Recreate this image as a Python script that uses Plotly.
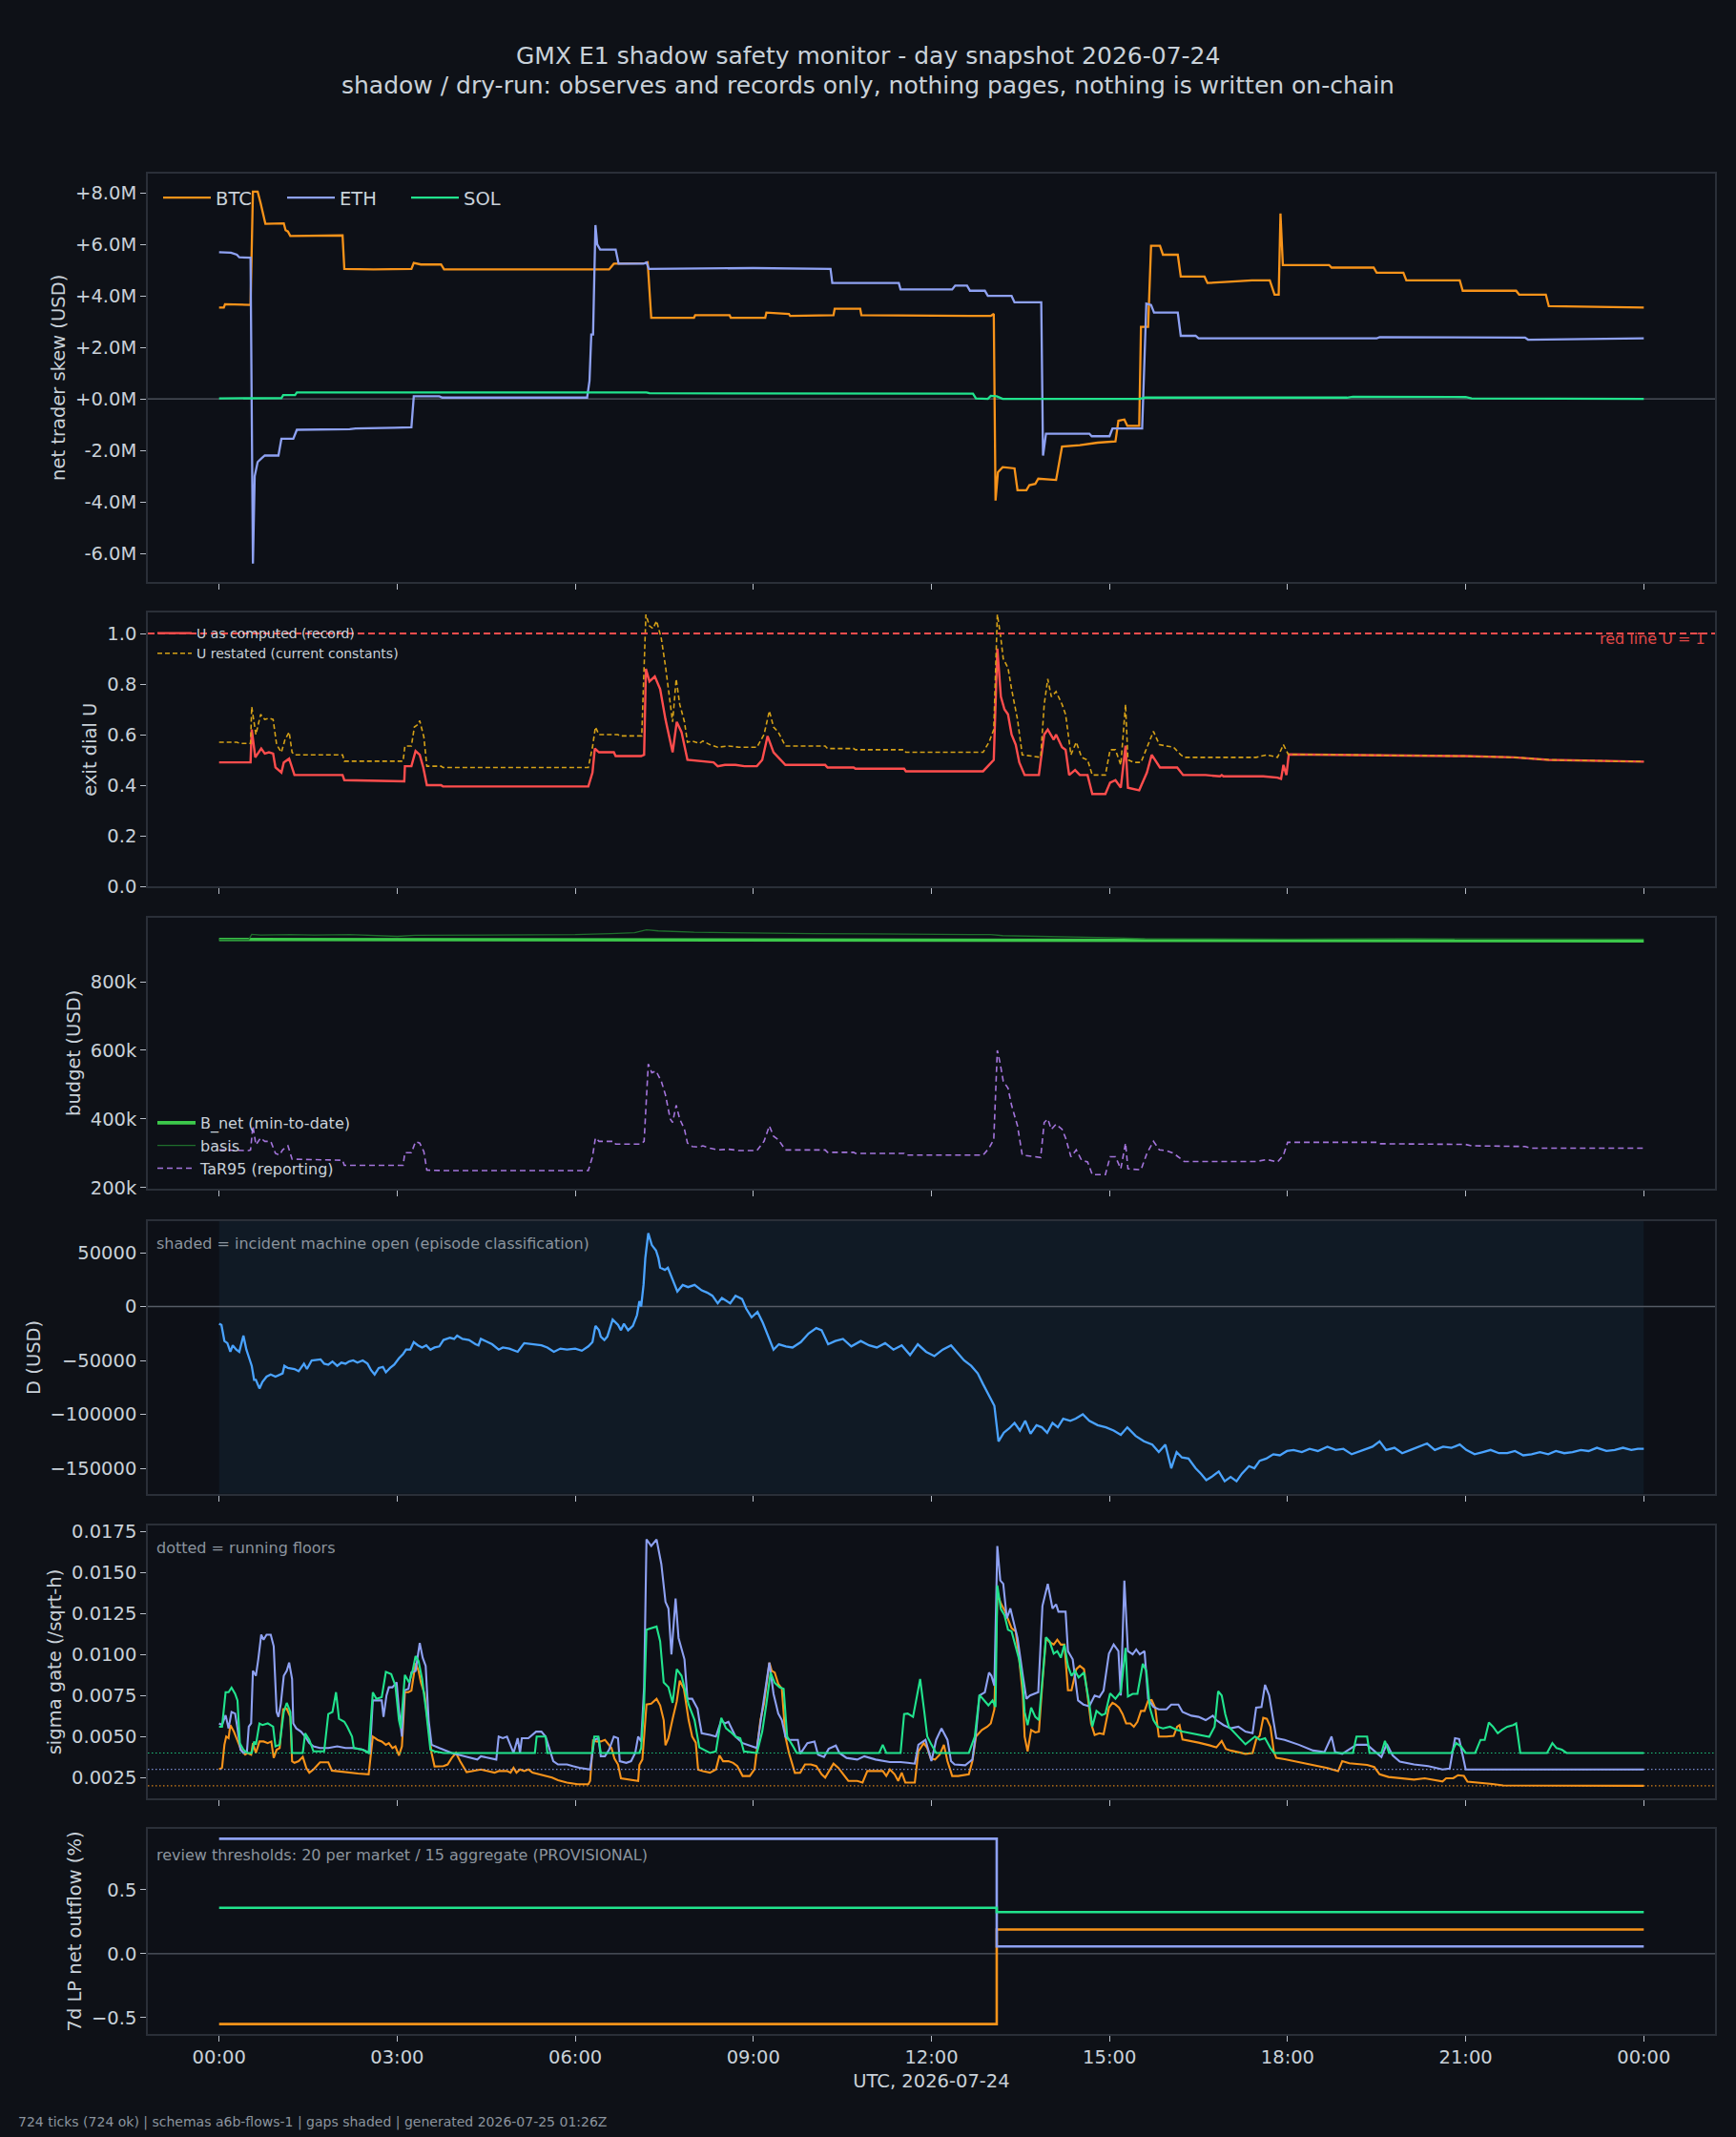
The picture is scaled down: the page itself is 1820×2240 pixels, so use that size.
import plotly.graph_objects as go

# ---------------- data (hours since 00:00 UTC, value) ----------------
HOUR_TICKS = [0, 3, 6, 9, 12, 15, 18, 21, 24]
HOUR_LABELS = ["00:00", "03:00", "06:00", "09:00", "12:00", "15:00", "18:00", "21:00", "00:00"]

# net trader skew, USD millions
SKEW_BTC = [(0, 3.55), (0.08, 3.55), (0.1, 3.68), (0.53, 3.65), (0.57, 8.05), (0.65, 8.05), (0.7, 7.6), (0.73, 7.3),
            (0.78, 6.8), (1.09, 6.82), (1.12, 6.55), (1.16, 6.5), (1.2, 6.33), (2.08, 6.35), (2.11, 5.05), (2.6, 5.03),
            (3.24, 5.05), (3.28, 5.28), (3.35, 5.25), (3.4, 5.22), (3.74, 5.22), (3.79, 5.03), (6.57, 5.03), (6.65, 5.25),
            (7.18, 5.27), (7.22, 5.3), (7.28, 3.15), (8.0, 3.15), (8.02, 3.25), (8.6, 3.25), (8.62, 3.15), (9.2, 3.15),
            (9.22, 3.35), (9.6, 3.3), (9.62, 3.22), (10.35, 3.25), (10.37, 3.5), (10.8, 3.5), (10.82, 3.25), (13.0, 3.22),
            (13.05, 3.3), (13.08, -3.95), (13.12, -2.85), (13.2, -2.65), (13.4, -2.7), (13.45, -3.55), (13.6, -3.55),
            (13.65, -3.35), (13.75, -3.3), (13.8, -3.1), (14.1, -3.15), (14.2, -1.85), (14.5, -1.8), (14.8, -1.7),
            (15.1, -1.65), (15.15, -0.85), (15.25, -0.8), (15.3, -1.05), (15.5, -1.05), (15.53, 2.8), (15.65, 2.8),
            (15.7, 5.95), (15.85, 5.95), (15.9, 5.6), (16.15, 5.6), (16.2, 4.75), (16.6, 4.75), (16.65, 4.5), (17.0, 4.55),
            (17.4, 4.6), (17.7, 4.6), (17.78, 4.05), (17.85, 4.05), (17.88, 7.2), (17.92, 5.2), (18.7, 5.2), (18.74, 5.1),
            (19.45, 5.1), (19.5, 4.9), (19.95, 4.9), (20.0, 4.6), (20.9, 4.6), (20.95, 4.2), (21.85, 4.2), (21.9, 4.05),
            (22.35, 4.05), (22.4, 3.6), (24, 3.55)]
SKEW_ETH = [(0, 5.7), (0.2, 5.68), (0.3, 5.6), (0.34, 5.5), (0.53, 5.48), (0.56, -3.0), (0.57, -6.4), (0.6, -3.0),
            (0.65, -2.45), (0.72, -2.3), (0.77, -2.2), (1.0, -2.2), (1.05, -1.55), (1.25, -1.55), (1.31, -1.2),
            (2.2, -1.18), (2.3, -1.15), (2.95, -1.12), (3.24, -1.1), (3.28, 0.1), (3.71, 0.1), (3.76, 0.05), (6.2, 0.05),
            (6.24, 0.7), (6.27, 2.5), (6.3, 2.5), (6.34, 6.75), (6.37, 6.0), (6.42, 5.8), (6.68, 5.8), (6.73, 5.25),
            (7.15, 5.25), (7.2, 5.3), (7.24, 5.05), (9.0, 5.08), (10.3, 5.05), (10.33, 4.5), (11.45, 4.5), (11.48, 4.25),
            (12.35, 4.25), (12.4, 4.4), (12.6, 4.4), (12.65, 4.2), (12.9, 4.2), (12.95, 4.0), (13.35, 4.0), (13.4, 3.75),
            (13.85, 3.75), (13.88, -2.2), (13.93, -1.35), (14.66, -1.35), (14.7, -1.45), (15.0, -1.45), (15.05, -1.15),
            (15.55, -1.15), (15.62, 3.7), (15.7, 3.65), (15.75, 3.35), (16.15, 3.35), (16.2, 2.45), (16.45, 2.45),
            (16.5, 2.35), (19.5, 2.35), (19.55, 2.4), (21.0, 2.4), (22.0, 2.38), (22.05, 2.3), (24, 2.35)]
SKEW_SOL = [(0, 0.02), (1.05, 0.03), (1.08, 0.15), (1.28, 0.15), (1.31, 0.25), (7.2, 0.25), (7.25, 0.22), (12.7, 0.2),
            (12.75, 0.02), (12.95, 0.0), (13.0, 0.12), (13.1, 0.1), (13.2, 0.0), (15.5, 0.0), (15.6, 0.05), (19.0, 0.05),
            (19.1, 0.08), (21.0, 0.07), (21.1, 0.02), (24, 0.0)]

# exit dial U
U_RECORD = [(0, 0.49), (0.5, 0.488), (0.53, 0.49), (0.55, 0.62), (0.61, 0.51), (0.71, 0.545), (0.77, 0.525), (0.84, 0.53),
            (0.91, 0.525), (0.95, 0.47), (1.05, 0.45), (1.09, 0.49), (1.18, 0.505), (1.27, 0.44), (2.08, 0.44),
            (2.11, 0.42), (3.12, 0.415), (3.13, 0.475), (3.24, 0.475), (3.31, 0.535), (3.38, 0.52), (3.44, 0.47),
            (3.5, 0.4), (3.74, 0.4), (3.77, 0.395), (6.22, 0.395), (6.29, 0.45), (6.33, 0.545), (6.4, 0.53), (6.65, 0.53),
            (6.68, 0.515), (7.11, 0.515), (7.16, 0.52), (7.19, 0.86), (7.25, 0.81), (7.34, 0.83), (7.43, 0.78),
            (7.52, 0.66), (7.62, 0.56), (7.64, 0.53), (7.71, 0.65), (7.79, 0.61), (7.89, 0.5), (8.1, 0.495), (8.33, 0.49),
            (8.4, 0.475), (8.52, 0.48), (8.7, 0.48), (8.85, 0.475), (9.06, 0.475), (9.15, 0.5), (9.24, 0.594),
            (9.34, 0.53), (9.42, 0.51), (9.54, 0.48), (10.21, 0.48), (10.25, 0.47), (10.69, 0.47), (10.72, 0.465),
            (11.54, 0.465), (11.57, 0.455), (12.87, 0.455), (12.97, 0.48), (13.05, 0.5), (13.11, 0.94), (13.17, 0.75),
            (13.23, 0.7), (13.29, 0.68), (13.35, 0.6), (13.42, 0.56), (13.48, 0.49), (13.57, 0.44), (13.81, 0.44),
            (13.9, 0.6), (13.96, 0.62), (14.06, 0.58), (14.1, 0.6), (14.2, 0.55), (14.26, 0.54), (14.32, 0.44),
            (14.42, 0.46), (14.5, 0.44), (14.63, 0.44), (14.71, 0.365), (14.93, 0.365), (15.01, 0.41), (15.1, 0.42),
            (15.19, 0.39), (15.27, 0.556), (15.31, 0.39), (15.5, 0.38), (15.63, 0.45), (15.71, 0.52), (15.8, 0.49),
            (15.85, 0.47), (16.14, 0.47), (16.24, 0.44), (16.62, 0.44), (16.86, 0.435), (16.89, 0.44), (16.92, 0.435),
            (17.59, 0.435), (17.83, 0.43), (17.89, 0.425), (17.93, 0.48), (17.98, 0.44), (18.02, 0.522), (18.8, 0.52),
            (20.0, 0.518), (20.97, 0.515), (21.82, 0.51), (22.4, 0.5), (24, 0.493)]
U_RESTATED = [(0, 0.57), (0.3, 0.57), (0.35, 0.565), (0.53, 0.565), (0.55, 0.71), (0.62, 0.6), (0.7, 0.68), (0.77, 0.66),
              (0.84, 0.665), (0.91, 0.66), (0.97, 0.56), (1.05, 0.53), (1.11, 0.58), (1.18, 0.61), (1.23, 0.53),
              (1.27, 0.52), (2.08, 0.52), (2.11, 0.495), (3.1, 0.495), (3.13, 0.555), (3.24, 0.555), (3.29, 0.63),
              (3.35, 0.64), (3.38, 0.655), (3.45, 0.59), (3.5, 0.475), (3.74, 0.475), (3.77, 0.47), (6.22, 0.47),
              (6.29, 0.55), (6.34, 0.63), (6.4, 0.6), (6.72, 0.6), (6.75, 0.595), (7.12, 0.595), (7.19, 1.075),
              (7.25, 1.03), (7.31, 1.02), (7.37, 1.05), (7.45, 0.98), (7.52, 0.87), (7.6, 0.72), (7.64, 0.65),
              (7.7, 0.82), (7.76, 0.72), (7.84, 0.65), (7.89, 0.57), (7.97, 0.575), (8.09, 0.565), (8.15, 0.575),
              (8.27, 0.56), (8.4, 0.55), (8.58, 0.555), (8.76, 0.55), (9.06, 0.55), (9.18, 0.6), (9.27, 0.694),
              (9.34, 0.63), (9.42, 0.61), (9.54, 0.555), (10.21, 0.555), (10.25, 0.545), (10.69, 0.545), (10.72, 0.54),
              (11.54, 0.54), (11.57, 0.53), (12.87, 0.53), (12.97, 0.57), (13.05, 0.62), (13.11, 1.075), (13.16, 1.0),
              (13.21, 0.9), (13.29, 0.864), (13.35, 0.78), (13.45, 0.66), (13.53, 0.52), (13.84, 0.51), (13.9, 0.72),
              (13.96, 0.82), (14.02, 0.75), (14.1, 0.77), (14.2, 0.72), (14.26, 0.68), (14.35, 0.52), (14.44, 0.57),
              (14.53, 0.51), (14.63, 0.5), (14.71, 0.44), (14.93, 0.44), (15.01, 0.54), (15.1, 0.54), (15.19, 0.48),
              (15.27, 0.72), (15.31, 0.5), (15.41, 0.49), (15.53, 0.49), (15.63, 0.55), (15.74, 0.613), (15.84, 0.56),
              (15.96, 0.555), (16.08, 0.55), (16.2, 0.52), (16.26, 0.51), (17.47, 0.51), (17.65, 0.52), (17.83, 0.51),
              (17.93, 0.56), (18.01, 0.522), (18.8, 0.52), (20.0, 0.518), (20.97, 0.515), (21.82, 0.51), (22.4, 0.5),
              (24, 0.493)]
U_RED_LINE = 1.0

# budget, USD thousands
B_NET = [(0, 923), (7.2, 922.5), (13.1, 921), (16, 920), (24, 919)]
BASIS = [(0, 923), (0.5, 923), (0.55, 938), (0.7, 936), (1.2, 937), (1.6, 936), (2.2, 937), (2.6, 934), (3.0, 932),
         (3.3, 935), (4.0, 936), (5.0, 936), (6.0, 937), (6.6, 940), (7.0, 943), (7.2, 951), (7.4, 948), (8.0, 944),
         (9.0, 941), (10.0, 940), (11.0, 939), (12.0, 939), (13.0, 937), (13.2, 934), (14.0, 932), (14.5, 930),
         (15.0, 928), (15.6, 925), (16.5, 924), (18, 924), (20, 925), (22, 924), (24, 924)]
TAR95 = [(0, 310), (0.5, 308), (0.53, 310), (0.57, 380), (0.62, 325), (0.7, 345), (0.77, 335), (0.87, 335), (0.95, 300),
         (1.02, 295), (1.07, 310), (1.16, 322), (1.23, 283), (2.08, 280), (2.11, 265), (3.1, 265), (3.13, 302),
         (3.24, 302), (3.31, 334), (3.38, 330), (3.45, 305), (3.5, 251), (3.74, 250), (6.22, 250), (6.29, 290),
         (6.34, 345), (6.4, 335), (6.65, 335), (6.68, 327), (7.11, 327), (7.16, 335), (7.23, 560), (7.29, 535),
         (7.36, 540), (7.45, 510), (7.52, 470), (7.6, 400), (7.64, 390), (7.7, 440), (7.76, 400), (7.84, 370),
         (7.89, 330), (7.97, 320), (8.09, 318), (8.15, 322), (8.27, 315), (8.4, 310), (8.58, 312), (8.76, 308),
         (9.06, 308), (9.18, 335), (9.27, 380), (9.34, 350), (9.42, 340), (9.54, 310), (10.21, 310), (10.25, 303),
         (10.69, 303), (10.72, 300), (11.54, 300), (11.57, 295), (12.87, 295), (12.97, 315), (13.05, 340), (13.11, 600),
         (13.16, 560), (13.21, 510), (13.29, 490), (13.35, 440), (13.45, 380), (13.53, 295), (13.84, 288), (13.9, 390),
         (13.96, 400), (14.02, 370), (14.1, 385), (14.2, 370), (14.26, 345), (14.35, 290), (14.44, 310), (14.53, 280),
         (14.63, 275), (14.71, 238), (14.93, 238), (15.01, 290), (15.1, 290), (15.19, 255), (15.27, 330), (15.31, 255),
         (15.53, 252), (15.63, 300), (15.74, 335), (15.84, 310), (15.96, 308), (16.08, 300), (16.2, 285), (16.26, 276),
         (17.47, 276), (17.65, 282), (17.83, 275), (17.93, 295), (18.0, 332), (19.5, 332), (19.55, 328), (21.0, 326),
         (21.1, 322), (22.0, 320), (22.1, 315), (24, 315)]

# D, USD
D_USD = [(0, -16e3), (0.04, -17e3), (0.09, -32e3), (0.14, -34e3), (0.19, -42e3), (0.23, -36e3), (0.29, -40e3),
         (0.34, -42e3), (0.41, -27e3), (0.46, -40e3), (0.52, -50e3), (0.55, -55e3), (0.59, -68e3), (0.62, -68e3),
         (0.68, -76e3), (0.73, -70e3), (0.8, -65e3), (0.87, -63e3), (0.95, -65e3), (1.02, -63e3), (1.07, -62e3),
         (1.1, -55e3), (1.16, -57e3), (1.27, -58e3), (1.34, -60e3), (1.43, -53e3), (1.48, -58e3), (1.56, -50e3),
         (1.66, -49e3), (1.71, -49e3), (1.77, -53e3), (1.84, -54e3), (1.91, -51e3), (1.99, -55e3), (2.06, -52e3),
         (2.13, -53e3), (2.19, -51e3), (2.26, -50e3), (2.33, -52e3), (2.42, -50e3), (2.5, -53e3), (2.56, -59e3),
         (2.62, -63e3), (2.69, -57e3), (2.76, -56e3), (2.81, -61e3), (2.88, -57e3), (2.95, -54e3), (3.03, -48e3),
         (3.1, -44e3), (3.15, -40e3), (3.22, -40e3), (3.28, -33e3), (3.35, -36e3), (3.42, -38e3), (3.49, -36e3),
         (3.56, -40e3), (3.63, -38e3), (3.71, -37e3), (3.78, -31e3), (3.89, -29e3), (3.96, -30e3), (4.01, -27e3),
         (4.1, -30e3), (4.21, -31e3), (4.32, -35e3), (4.37, -36e3), (4.41, -30e3), (4.49, -32e3), (4.6, -35e3),
         (4.71, -40e3), (4.78, -38e3), (4.89, -39e3), (5.03, -42e3), (5.14, -34e3), (5.28, -35e3), (5.43, -36e3),
         (5.53, -38e3), (5.64, -42e3), (5.75, -39e3), (5.86, -40e3), (6.0, -39e3), (6.11, -41e3), (6.22, -37e3),
         (6.29, -33e3), (6.34, -18e3), (6.4, -22e3), (6.43, -28e3), (6.49, -31e3), (6.54, -28e3), (6.63, -12e3),
         (6.72, -17e3), (6.77, -22e3), (6.82, -16e3), (6.89, -22e3), (6.97, -18e3), (7.04, -8e3), (7.08, 5e3),
         (7.11, 0), (7.15, 20e3), (7.18, 45e3), (7.23, 68e3), (7.29, 57e3), (7.36, 52e3), (7.4, 45e3), (7.43, 36e3),
         (7.51, 34e3), (7.56, 36e3), (7.64, 25e3), (7.72, 14e3), (7.81, 20e3), (7.9, 18e3), (8.01, 20e3), (8.13, 15e3),
         (8.22, 13e3), (8.31, 10e3), (8.4, 3e3), (8.47, 8e3), (8.61, 3e3), (8.7, 10e3), (8.81, 7e3), (8.88, -2e3),
         (8.97, -10e3), (9.07, -5e3), (9.16, -15e3), (9.27, -30e3), (9.34, -40e3), (9.43, -35e3), (9.55, -37e3),
         (9.66, -38e3), (9.8, -33e3), (9.93, -25e3), (10.06, -20e3), (10.15, -22e3), (10.26, -35e3), (10.38, -32e3),
         (10.51, -30e3), (10.65, -37e3), (10.81, -32e3), (10.95, -36e3), (11.08, -38e3), (11.22, -34e3),
         (11.36, -40e3), (11.5, -36e3), (11.64, -45e3), (11.77, -35e3), (11.91, -42e3), (12.05, -46e3),
         (12.19, -40e3), (12.33, -36e3), (12.44, -43e3), (12.55, -50e3), (12.67, -55e3), (12.78, -62e3),
         (12.87, -72e3), (12.97, -82e3), (13.06, -92e3), (13.13, -125e3), (13.22, -117e3), (13.31, -113e3),
         (13.4, -108e3), (13.49, -115e3), (13.58, -106e3), (13.67, -118e3), (13.77, -110e3), (13.86, -112e3),
         (13.95, -117e3), (14.04, -108e3), (14.13, -112e3), (14.22, -104e3), (14.34, -106e3), (14.43, -104e3),
         (14.55, -100e3), (14.66, -106e3), (14.8, -110e3), (14.94, -112e3), (15.07, -115e3), (15.19, -119e3),
         (15.3, -112e3), (15.44, -120e3), (15.58, -125e3), (15.72, -128e3), (15.83, -135e3), (15.94, -128e3),
         (16.04, -150e3), (16.13, -135e3), (16.22, -140e3), (16.33, -141e3), (16.45, -150e3), (16.54, -155e3),
         (16.63, -161e3), (16.72, -158e3), (16.84, -153e3), (16.94, -162e3), (17.04, -158e3), (17.14, -162e3),
         (17.23, -155e3), (17.35, -148e3), (17.44, -150e3), (17.53, -143e3), (17.64, -141e3), (17.76, -137e3),
         (17.87, -138e3), (17.99, -134e3), (18.1, -133e3), (18.24, -135e3), (18.37, -132e3), (18.51, -134e3),
         (18.67, -130e3), (18.81, -133e3), (18.94, -132e3), (19.08, -137e3), (19.24, -134e3), (19.43, -130e3),
         (19.55, -125e3), (19.66, -133e3), (19.8, -131e3), (19.93, -136e3), (20.07, -133e3), (20.21, -130e3),
         (20.35, -127e3), (20.48, -133e3), (20.62, -130e3), (20.76, -131e3), (20.9, -128e3), (21.01, -133e3),
         (21.15, -137e3), (21.29, -135e3), (21.42, -133e3), (21.56, -136e3), (21.7, -136e3), (21.83, -134e3),
         (21.97, -138e3), (22.11, -137e3), (22.25, -135e3), (22.39, -137e3), (22.52, -134e3), (22.66, -136e3),
         (22.8, -135e3), (22.94, -133e3), (23.07, -134e3), (23.21, -131e3), (23.37, -134e3), (23.51, -133e3),
         (23.65, -131e3), (23.79, -133e3), (23.9, -132e3), (24, -132e3)]
INCIDENT_OPEN = (0, 24)

# sigma gate (/sqrt-h)
SIG_ETH = [(0, 5.8e-3), (0.05, 5.7e-3), (0.11, 6.3e-3), (0.16, 5.5e-3), (0.21, 6.5e-3), (0.27, 6.4e-3), (0.31, 5.5e-3),
           (0.36, 4.2e-3), (0.41, 4.0e-3), (0.47, 4.1e-3), (0.5, 5.6e-3), (0.54, 5.8e-3), (0.57, 9.0e-3), (0.62, 8.7e-3),
           (0.66, 9.7e-3), (0.71, 11.2e-3), (0.75, 10.9e-3), (0.8, 11.2e-3), (0.87, 11.2e-3), (0.92, 10.5e-3),
           (0.97, 6.5e-3), (1.0, 6.2e-3), (1.04, 7.0e-3), (1.09, 8.7e-3), (1.14, 9.0e-3), (1.18, 9.5e-3), (1.23, 8.5e-3),
           (1.25, 5.8e-3), (1.3, 5.5e-3), (1.38, 5.3e-3), (1.45, 5.0e-3), (1.52, 4.6e-3), (1.59, 4.4e-3), (1.7, 4.3e-3),
           (1.84, 4.3e-3), (1.99, 4.4e-3), (2.13, 4.3e-3), (2.27, 4.3e-3), (2.42, 4.2e-3), (2.49, 4.1e-3),
           (2.54, 4.0e-3), (2.59, 7.2e-3), (2.65, 7.2e-3), (2.74, 7.2e-3), (2.77, 6.2e-3), (2.82, 7.5e-3),
           (2.86, 8.0e-3), (2.92, 8.0e-3), (2.99, 8.3e-3), (3.03, 6.6e-3), (3.08, 5.0e-3), (3.12, 7.8e-3),
           (3.19, 7.9e-3), (3.24, 8.9e-3), (3.31, 9.0e-3), (3.38, 10.7e-3), (3.43, 9.8e-3), (3.48, 9.3e-3),
           (3.53, 6.0e-3), (3.58, 4.5e-3), (3.71, 4.3e-3), (3.92, 4.0e-3), (4.14, 3.8e-3), (4.35, 3.6e-3),
           (4.41, 3.8e-3), (4.57, 3.7e-3), (4.67, 3.6e-3), (4.71, 5.0e-3), (4.78, 4.9e-3), (4.85, 5.0e-3),
           (4.91, 4.5e-3), (4.96, 4.0e-3), (5.0, 4.5e-3), (5.03, 4.9e-3), (5.07, 4.0e-3), (5.1, 4.9e-3),
           (5.21, 4.9e-3), (5.28, 5.1e-3), (5.34, 5.3e-3), (5.43, 5.3e-3), (5.5, 5.0e-3), (5.57, 4.2e-3),
           (5.63, 3.5e-3), (5.71, 3.3e-3), (5.86, 3.3e-3), (5.96, 3.2e-3), (6.07, 3.1e-3), (6.25, 3.0e-3),
           (6.32, 4.8e-3), (6.39, 4.9e-3), (6.43, 3.8e-3), (6.5, 3.8e-3), (6.57, 4.2e-3), (6.65, 5.0e-3),
           (6.72, 4.9e-3), (6.75, 3.5e-3), (6.86, 3.4e-3), (6.94, 3.5e-3), (7.01, 4.0e-3), (7.06, 5.0e-3),
           (7.11, 4.7e-3), (7.16, 8.0e-3), (7.2, 17.0e-3), (7.28, 16.6e-3), (7.37, 17.0e-3), (7.45, 15.5e-3),
           (7.52, 13.2e-3), (7.57, 12.8e-3), (7.62, 10.0e-3), (7.69, 13.4e-3), (7.74, 11.0e-3), (7.84, 9.7e-3),
           (7.89, 7.3e-3), (7.97, 7.3e-3), (8.06, 6.7e-3), (8.09, 6.0e-3), (8.13, 5.2e-3), (8.27, 5.1e-3),
           (8.37, 5.0e-3), (8.46, 6.0e-3), (8.52, 5.8e-3), (8.58, 5.9e-3), (8.7, 5.0e-3), (8.82, 4.6e-3),
           (9.0, 4.4e-3), (9.06, 4.3e-3), (9.15, 6.6e-3), (9.27, 9.5e-3), (9.34, 7.6e-3), (9.42, 6.4e-3),
           (9.48, 6.0e-3), (9.54, 5.0e-3), (9.6, 4.8e-3), (9.75, 4.8e-3), (9.79, 3.95e-3), (9.91, 4.6e-3),
           (10.03, 4.7e-3), (10.09, 3.9e-3), (10.19, 3.75e-3), (10.27, 4.25e-3), (10.39, 4.45e-3), (10.45, 4.0e-3),
           (10.57, 3.7e-3), (10.75, 3.6e-3), (10.87, 3.8e-3), (11.06, 3.6e-3), (11.3, 3.45e-3), (11.48, 3.45e-3),
           (11.6, 3.4e-3), (11.72, 3.35e-3), (11.78, 4.5e-3), (11.9, 4.8e-3), (12.0, 3.5e-3), (12.08, 4.8e-3),
           (12.17, 5.5e-3), (12.27, 4.8e-3), (12.33, 3.5e-3), (12.39, 3.3e-3), (12.57, 3.25e-3), (12.69, 3.6e-3),
           (12.75, 5.2e-3), (12.81, 7.5e-3), (12.9, 7.7e-3), (12.97, 8.9e-3), (13.01, 8.7e-3), (13.06, 8.1e-3),
           (13.11, 16.6e-3), (13.16, 14.5e-3), (13.21, 14.3e-3), (13.27, 12.2e-3), (13.33, 12.8e-3),
           (13.39, 11.8e-3), (13.45, 11.0e-3), (13.54, 8.7e-3), (13.6, 7.3e-3), (13.66, 7.5e-3), (13.72, 7.6e-3),
           (13.8, 7.7e-3), (13.87, 12.95e-3), (13.96, 14.3e-3), (14.04, 12.8e-3), (14.1, 13.05e-3), (14.14, 12.6e-3),
           (14.26, 12.6e-3), (14.3, 10.2e-3), (14.38, 9.7e-3), (14.47, 7.2e-3), (14.56, 6.95e-3), (14.66, 6.85e-3),
           (14.75, 7.5e-3), (14.83, 7.4e-3), (14.9, 7.8e-3), (14.99, 10.05e-3), (15.07, 10.6e-3), (15.15, 10.2e-3),
           (15.19, 7.5e-3), (15.25, 14.5e-3), (15.31, 10.2e-3), (15.39, 10.0e-3), (15.45, 10.3e-3), (15.51, 10.0e-3),
           (15.59, 10.2e-3), (15.65, 7.3e-3), (15.74, 6.8e-3), (15.83, 6.66e-3), (15.96, 6.66e-3), (16.04, 6.95e-3),
           (16.16, 6.95e-3), (16.23, 6.5e-3), (16.38, 6.27e-3), (16.5, 6.2e-3), (16.62, 6.0e-3), (16.74, 6.27e-3),
           (16.8, 6.0e-3), (16.92, 5.7e-3), (17.04, 5.5e-3), (17.17, 5.6e-3), (17.29, 5.3e-3), (17.41, 5.2e-3),
           (17.47, 6.76e-3), (17.56, 6.8e-3), (17.62, 8.15e-3), (17.69, 7.5e-3), (17.74, 6.37e-3), (17.81, 4.9e-3),
           (17.95, 4.8e-3), (18.19, 4.5e-3), (18.43, 4.15e-3), (18.62, 4.05e-3), (18.74, 5.0e-3), (18.8, 4.05e-3),
           (18.92, 3.95e-3), (19.16, 4.5e-3), (19.34, 4.5e-3), (19.46, 4.15e-3), (19.58, 3.75e-3), (19.67, 4.55e-3),
           (19.77, 3.85e-3), (19.89, 3.47e-3), (20.13, 3.3e-3), (20.37, 3.2e-3), (20.61, 3.0e-3), (20.73, 3.05e-3),
           (20.82, 4.9e-3), (20.89, 4.85e-3), (20.95, 3.9e-3), (21.0, 3.0e-3), (24, 3.0e-3)]
SIG_SOL = [(0, 5.6e-3), (0.05, 5.6e-3), (0.11, 7.7e-3), (0.16, 7.7e-3), (0.21, 7.98e-3), (0.27, 7.6e-3), (0.31, 7.2e-3),
           (0.35, 4.6e-3), (0.41, 4.2e-3), (0.48, 4.0e-3), (0.55, 4.0e-3), (0.59, 4.7e-3), (0.62, 4.5e-3),
           (0.68, 5.79e-3), (0.73, 5.7e-3), (0.82, 5.8e-3), (0.91, 5.6e-3), (0.95, 4.4e-3), (1.02, 4.5e-3),
           (1.09, 6.5e-3), (1.14, 7.05e-3), (1.2, 6.5e-3), (1.23, 4.0e-3), (1.41, 4.0e-3), (1.45, 5.2e-3),
           (1.52, 4.8e-3), (1.59, 4.1e-3), (1.77, 4.1e-3), (1.84, 6.37e-3), (1.91, 6.5e-3), (1.97, 7.7e-3),
           (2.02, 6.08e-3), (2.11, 5.9e-3), (2.16, 5.6e-3), (2.24, 5.0e-3), (2.27, 4.3e-3), (2.42, 4.2e-3),
           (2.52, 4.0e-3), (2.59, 7.69e-3), (2.65, 7.3e-3), (2.74, 7.4e-3), (2.81, 8.94e-3), (2.9, 8.8e-3),
           (2.97, 8.1e-3), (3.03, 6.0e-3), (3.06, 5.5e-3), (3.13, 8.75e-3), (3.2, 8.3e-3), (3.26, 9.0e-3),
           (3.31, 9.9e-3), (3.36, 9.6e-3), (3.42, 8.5e-3), (3.49, 6.5e-3), (3.56, 4.2e-3), (3.63, 4.1e-3),
           (3.78, 4.0e-3), (5.32, 4.0e-3), (5.35, 5.0e-3), (5.5, 5.0e-3), (5.53, 4.0e-3), (6.29, 4.0e-3),
           (6.32, 5.0e-3), (6.39, 5.0e-3), (6.43, 4.0e-3), (7.08, 4.0e-3), (7.11, 4.3e-3), (7.16, 7.0e-3),
           (7.2, 11.5e-3), (7.37, 11.7e-3), (7.43, 10.8e-3), (7.49, 8.3e-3), (7.57, 8.0e-3), (7.64, 7.05e-3),
           (7.71, 9.1e-3), (7.79, 8.7e-3), (7.85, 7.8e-3), (7.91, 6.95e-3), (8.01, 6.0e-3), (8.09, 4.34e-3),
           (8.27, 4.0e-3), (8.37, 4.1e-3), (8.46, 6.14e-3), (8.54, 5.5e-3), (8.61, 5.3e-3), (8.7, 5.0e-3),
           (8.78, 4.9e-3), (8.84, 4.1e-3), (9.06, 4.0e-3), (9.15, 5.3e-3), (9.22, 7.0e-3), (9.29, 8.9e-3),
           (9.36, 8.27e-3), (9.44, 8.0e-3), (9.51, 7.9e-3), (9.57, 5.0e-3), (9.67, 4.4e-3), (9.73, 4.0e-3),
           (11.12, 4.0e-3), (11.18, 4.5e-3), (11.24, 4.0e-3), (11.48, 4.0e-3), (11.54, 6.37e-3), (11.6, 6.4e-3),
           (11.69, 6.2e-3), (11.76, 7.5e-3), (11.81, 8.5e-3), (11.88, 6.5e-3), (11.93, 5.0e-3), (12.0, 4.5e-3),
           (12.08, 4.0e-3), (12.63, 4.0e-3), (12.73, 5.0e-3), (12.81, 7.53e-3), (12.87, 7.3e-3), (12.96, 6.9e-3),
           (13.03, 7.2e-3), (13.08, 6.8e-3), (13.11, 14.2e-3), (13.17, 12.76e-3), (13.23, 12.4e-3), (13.29, 11.5e-3),
           (13.35, 11.4e-3), (13.42, 10.5e-3), (13.48, 9.66e-3), (13.54, 8.2e-3), (13.57, 6.5e-3), (13.62, 5.7e-3),
           (13.68, 6.76e-3), (13.75, 6.2e-3), (13.81, 6.0e-3), (13.87, 8.5e-3), (13.93, 11.05e-3), (13.99, 10.8e-3),
           (14.06, 10.05e-3), (14.12, 10.2e-3), (14.18, 9.8e-3), (14.24, 10.6e-3), (14.3, 9.3e-3), (14.36, 8.7e-3),
           (14.42, 9.0e-3), (14.48, 8.6e-3), (14.57, 8.9e-3), (14.66, 7.0e-3), (14.71, 5.6e-3), (14.78, 6.56e-3),
           (14.87, 6.3e-3), (14.93, 6.4e-3), (15.01, 7.63e-3), (15.1, 7.3e-3), (15.19, 7.73e-3), (15.27, 10.4e-3),
           (15.31, 7.44e-3), (15.39, 7.6e-3), (15.47, 7.6e-3), (15.56, 9.43e-3), (15.62, 9.0e-3), (15.68, 6.76e-3),
           (15.74, 6.0e-3), (15.81, 5.6e-3), (15.9, 5.5e-3), (16.02, 5.6e-3), (16.14, 5.4e-3), (16.23, 5.3e-3),
           (16.38, 5.2e-3), (16.5, 5.1e-3), (16.68, 4.98e-3), (16.77, 5.6e-3), (16.83, 7.76e-3), (16.89, 7.5e-3),
           (16.95, 6.37e-3), (17.01, 5.6e-3), (17.11, 5.2e-3), (17.21, 4.8e-3), (17.29, 4.53e-3), (17.38, 4.8e-3),
           (17.45, 5.0e-3), (17.53, 4.8e-3), (17.62, 4.9e-3), (17.71, 4.3e-3), (17.77, 4.0e-3), (19.1, 4.0e-3),
           (19.16, 5.0e-3), (19.34, 5.0e-3), (19.38, 4.0e-3), (19.58, 4.0e-3), (19.64, 4.73e-3), (19.71, 4.0e-3),
           (20.76, 4.0e-3), (20.84, 4.6e-3), (20.92, 4.4e-3), (21.0, 4.0e-3), (21.16, 4.0e-3), (21.25, 4.8e-3),
           (21.32, 4.8e-3), (21.39, 5.85e-3), (21.46, 5.6e-3), (21.54, 5.2e-3), (21.61, 5.4e-3), (21.7, 5.6e-3),
           (21.8, 5.7e-3), (21.85, 5.8e-3), (21.92, 4.0e-3), (22.37, 4.0e-3), (22.46, 4.6e-3), (22.53, 4.3e-3),
           (22.62, 4.2e-3), (22.7, 4.0e-3), (24, 4.0e-3)]
SIG_BTC = [(0, 3.0e-3), (0.05, 3.1e-3), (0.09, 4.5e-3), (0.12, 5.0e-3), (0.16, 4.9e-3), (0.19, 5.7e-3), (0.25, 5.3e-3),
           (0.3, 4.8e-3), (0.34, 4.5e-3), (0.37, 4.2e-3), (0.44, 3.9e-3), (0.48, 4.0e-3), (0.54, 3.9e-3),
           (0.57, 4.6e-3), (0.62, 4.0e-3), (0.68, 4.7e-3), (0.75, 4.7e-3), (0.82, 4.6e-3), (0.88, 4.7e-3),
           (0.92, 3.7e-3), (0.97, 4.2e-3), (1.02, 4.3e-3), (1.08, 6.66e-3), (1.14, 6.7e-3), (1.2, 6.2e-3),
           (1.23, 3.5e-3), (1.27, 3.4e-3), (1.34, 3.5e-3), (1.41, 3.76e-3), (1.47, 3.08e-3), (1.52, 2.8e-3),
           (1.59, 3.0e-3), (1.7, 3.43e-3), (1.84, 3.43e-3), (1.9, 2.93e-3), (2.06, 2.85e-3), (2.2, 2.8e-3),
           (2.34, 2.75e-3), (2.52, 2.7e-3), (2.56, 4.0e-3), (2.59, 5.0e-3), (2.67, 4.8e-3), (2.74, 4.7e-3),
           (2.81, 4.5e-3), (2.86, 4.6e-3), (2.92, 4.3e-3), (2.97, 4.4e-3), (3.03, 3.85e-3), (3.08, 4.4e-3),
           (3.13, 7.7e-3), (3.19, 7.7e-3), (3.24, 7.8e-3), (3.31, 9.47e-3), (3.36, 9.0e-3), (3.4, 8.3e-3),
           (3.46, 7.6e-3), (3.53, 5.5e-3), (3.58, 4.0e-3), (3.63, 3.18e-3), (3.78, 3.2e-3), (3.85, 3.3e-3),
           (3.92, 3.7e-3), (3.99, 4.0e-3), (4.06, 3.5e-3), (4.17, 2.83e-3), (4.28, 2.9e-3), (4.41, 3.0e-3),
           (4.53, 2.9e-3), (4.64, 2.8e-3), (4.71, 2.9e-3), (4.85, 2.9e-3), (4.91, 2.8e-3), (4.96, 3.1e-3),
           (5.01, 2.8e-3), (5.07, 3.0e-3), (5.14, 2.9e-3), (5.21, 3.0e-3), (5.28, 2.8e-3), (5.39, 2.7e-3),
           (5.5, 2.6e-3), (5.61, 2.5e-3), (5.71, 2.35e-3), (5.86, 2.2e-3), (6.04, 2.1e-3), (6.22, 2.1e-3),
           (6.25, 2.3e-3), (6.3, 4.76e-3), (6.36, 4.7e-3), (6.43, 4.7e-3), (6.5, 4.8e-3), (6.56, 4.5e-3),
           (6.61, 4.3e-3), (6.66, 3.66e-3), (6.72, 3.3e-3), (6.77, 2.46e-3), (6.86, 2.4e-3), (7.01, 2.3e-3),
           (7.06, 2.3e-3), (7.08, 3.27e-3), (7.13, 3.6e-3), (7.16, 5.0e-3), (7.2, 6.95e-3), (7.28, 7.0e-3),
           (7.37, 7.3e-3), (7.43, 6.9e-3), (7.49, 6.0e-3), (7.52, 4.47e-3), (7.57, 4.9e-3), (7.64, 6.08e-3),
           (7.71, 7.14e-3), (7.76, 8.4e-3), (7.83, 7.9e-3), (7.91, 6.0e-3), (7.97, 5.0e-3), (8.03, 4.63e-3),
           (8.07, 2.98e-3), (8.15, 2.9e-3), (8.27, 2.8e-3), (8.37, 3.0e-3), (8.43, 3.85e-3), (8.49, 3.5e-3),
           (8.58, 3.5e-3), (8.66, 3.4e-3), (8.73, 3.2e-3), (8.82, 2.6e-3), (8.94, 2.6e-3), (9.02, 3.0e-3),
           (9.12, 6.0e-3), (9.18, 7.0e-3), (9.27, 9.5e-3), (9.31, 9.0e-3), (9.36, 8.9e-3), (9.42, 8.2e-3),
           (9.48, 7.92e-3), (9.54, 5.0e-3), (9.6, 4.0e-3), (9.7, 2.79e-3), (9.79, 2.8e-3), (9.87, 3.3e-3),
           (9.97, 3.3e-3), (10.06, 3.2e-3), (10.15, 2.7e-3), (10.21, 2.5e-3), (10.27, 2.9e-3), (10.35, 3.35e-3),
           (10.43, 3.1e-3), (10.51, 2.7e-3), (10.6, 2.3e-3), (10.75, 2.3e-3), (10.84, 2.2e-3), (10.92, 2.9e-3),
           (11.06, 2.9e-3), (11.18, 2.9e-3), (11.24, 2.6e-3), (11.3, 3.0e-3), (11.38, 2.7e-3), (11.44, 2.3e-3),
           (11.5, 2.8e-3), (11.56, 2.2e-3), (11.72, 2.2e-3), (11.78, 4.1e-3), (11.87, 4.6e-3), (11.93, 4.3e-3),
           (11.99, 3.66e-3), (12.06, 3.6e-3), (12.14, 3.9e-3), (12.21, 4.5e-3), (12.27, 3.5e-3), (12.35, 2.6e-3),
           (12.45, 2.6e-3), (12.63, 2.7e-3), (12.69, 3.5e-3), (12.75, 5.0e-3), (12.85, 5.4e-3), (12.94, 5.6e-3),
           (13.0, 5.8e-3), (13.06, 6.66e-3), (13.11, 13.7e-3), (13.17, 13.1e-3), (13.23, 12.7e-3), (13.29, 12.1e-3),
           (13.35, 11.6e-3), (13.42, 11.4e-3), (13.48, 9.66e-3), (13.54, 7.53e-3), (13.57, 5.0e-3), (13.62, 4.1e-3),
           (13.68, 5.4e-3), (13.75, 5.25e-3), (13.81, 5.3e-3), (13.87, 8.3e-3), (13.93, 11.0e-3), (13.99, 10.76e-3),
           (14.06, 10.6e-3), (14.12, 10.9e-3), (14.18, 10.6e-3), (14.24, 10.6e-3), (14.3, 7.82e-3), (14.36, 7.82e-3),
           (14.44, 9.1e-3), (14.5, 9.3e-3), (14.57, 9.1e-3), (14.63, 7.5e-3), (14.69, 5.8e-3), (14.75, 5.1e-3),
           (14.83, 5.2e-3), (14.9, 5.15e-3), (14.99, 6.76e-3), (15.05, 7.05e-3), (15.1, 6.95e-3), (15.16, 6.76e-3),
           (15.22, 6.37e-3), (15.28, 5.8e-3), (15.35, 5.8e-3), (15.41, 5.6e-3), (15.47, 5.9e-3), (15.53, 6.56e-3),
           (15.59, 6.56e-3), (15.65, 7.18e-3), (15.71, 7.22e-3), (15.77, 6.76e-3), (15.83, 5.0e-3), (15.96, 5.0e-3),
           (16.08, 5.04e-3), (16.14, 5.6e-3), (16.18, 5.7e-3), (16.23, 4.82e-3), (16.38, 4.73e-3), (16.5, 4.63e-3),
           (16.68, 4.47e-3), (16.8, 4.34e-3), (16.89, 4.73e-3), (16.96, 4.25e-3), (17.04, 4.15e-3), (17.17, 4.05e-3),
           (17.29, 3.95e-3), (17.41, 4.0e-3), (17.47, 4.82e-3), (17.53, 5.04e-3), (17.59, 6.14e-3), (17.65, 6.08e-3),
           (17.71, 5.6e-3), (17.77, 4.05e-3), (17.81, 3.7e-3), (17.95, 3.62e-3), (18.19, 3.43e-3), (18.43, 3.24e-3),
           (18.67, 3.08e-3), (18.85, 2.89e-3), (18.92, 3.5e-3), (19.04, 3.37e-3), (19.22, 3.3e-3), (19.34, 3.27e-3),
           (19.46, 3.14e-3), (19.55, 2.7e-3), (19.7, 2.54e-3), (19.89, 2.46e-3), (20.13, 2.38e-3), (20.31, 2.46e-3),
           (20.49, 2.35e-3), (20.61, 2.27e-3), (20.67, 2.46e-3), (20.79, 2.46e-3), (20.87, 2.65e-3), (20.97, 2.6e-3),
           (21.03, 2.25e-3), (21.21, 2.2e-3), (21.45, 2.11e-3), (21.63, 2.02e-3), (24, 2.0e-3)]
SIG_FLOOR = {"BTC": 2.0e-3, "ETH": 3.0e-3, "SOL": 4.0e-3}

# 7d LP net outflow (%)
LP_BTC = [(0, -0.55), (13.1, 0.19), (24, 0.19)]
LP_ETH = [(0, 0.90), (13.1, 0.057), (24, 0.057)]
LP_SOL = [(0, 0.36), (13.1, 0.326), (24, 0.326)]

# ---------------- styling ----------------
W, H = 1820, 2240
ML, MR = 155, 22
BG = "#0e1117"
PLOT_BG = "#0d1017"
FRAME = "#2a2f38"
TXT = "#c9d1d9"
MUTED = "#8b949e"
ZERO = "#555b66"
FONT = "DejaVu Sans"
FS = 19.5
C_BTC, C_ETH, C_SOL = "#f7931a", "#8ea1f2", "#21e38d"


def px_y(y):
    return 1 - y / H


def px_x(x):
    return (x - ML) / (W - ML - MR)


def xy(pairs):
    t, v = zip(*pairs)
    return list(t), list(v)


PANELS = [(181.7, 610), (642.3, 929), (961.7, 1246), (1280, 1565.7), (1599, 1885), (1917.3, 2131.7)]

fig = go.Figure()


def add_line(pairs, i, color, width, name=None, dash=None, legend=None, showlegend=False, shape="linear"):
    t, v = xy(pairs)
    fig.add_trace(go.Scatter(
        x=t, y=v, mode="lines", name=name,
        line=dict(color=color, width=width, dash=dash, shape=shape),
        xaxis="x" if i == 1 else f"x{i}", yaxis="y" if i == 1 else f"y{i}",
        showlegend=showlegend, legend=legend, hoverinfo="skip"))


# panel 1
add_line(SKEW_BTC, 1, C_BTC, 2.3, "BTC", legend="legend", showlegend=True)
add_line(SKEW_ETH, 1, C_ETH, 2.3, "ETH", legend="legend", showlegend=True)
add_line(SKEW_SOL, 1, C_SOL, 2.3, "SOL", legend="legend", showlegend=True)
# panel 2
add_line(U_RECORD, 2, "#ff4d4d", 2.4, "U as computed (record)", legend="legend2", showlegend=True)
add_line(U_RESTATED, 2, "#d4a017", 1.6, "U restated (current constants)", dash="5px,3px", legend="legend2", showlegend=True)
# panel 3
add_line(B_NET, 3, "#3cc84b", 3.6, "B_net (min-to-date)", legend="legend3", showlegend=True)
add_line(BASIS, 3, "#1f6e2c", 1.3, "basis", legend="legend3", showlegend=True)
add_line(TAR95, 3, "#a374db", 1.6, "TaR95 (reporting)", dash="6px,4px", legend="legend3", showlegend=True)
# panel 4
add_line(D_USD, 4, "#4aa3ff", 2.3)
# panel 5
add_line(SIG_BTC, 5, C_BTC, 2.1)
add_line(SIG_ETH, 5, C_ETH, 2.1)
add_line(SIG_SOL, 5, C_SOL, 2.1)
# panel 6
add_line(LP_BTC, 6, C_BTC, 2.6, shape="hv")
add_line(LP_ETH, 6, C_ETH, 2.6, shape="hv")
add_line(LP_SOL, 6, C_SOL, 2.6, shape="hv")

Y_SPECS = [
    dict(range=[-7.11, 8.76], tickvals=[-6, -4, -2, 0, 2, 4, 6, 8],
         ticktext=["-6.0M", "-4.0M", "-2.0M", "+0.0M", "+2.0M", "+4.0M", "+6.0M", "+8.0M"],
         title="net trader skew (USD)"),
    dict(range=[0, 1.082], tickvals=[0, 0.2, 0.4, 0.6, 0.8, 1.0],
         ticktext=["0.0", "0.2", "0.4", "0.6", "0.8", "1.0"], title="exit dial U"),
    dict(range=[197, 987], tickvals=[200, 400, 600, 800],
         ticktext=["200k", "400k", "600k", "800k"], title="budget (USD)"),
    dict(range=[-173600, 79200], tickvals=[-150000, -100000, -50000, 0, 50000],
         ticktext=["\u2212150000", "\u2212100000", "\u221250000", "0", "50000"], title="D (USD)"),
    dict(range=[0.00124, 0.01785], tickvals=[0.0025, 0.005, 0.0075, 0.01, 0.0125, 0.015, 0.0175],
         ticktext=["0.0025", "0.0050", "0.0075", "0.0100", "0.0125", "0.0150", "0.0175"],
         title="sigma gate (/sqrt-h)"),
    dict(range=[-0.625, 0.975], tickvals=[-0.5, 0, 0.5],
         ticktext=["\u22120.5", "0.0", "0.5"], title="7d LP net outflow (%)"),
]

layout = dict(
    width=W, height=H, paper_bgcolor=BG, plot_bgcolor=PLOT_BG,
    margin=dict(l=ML, r=MR, t=0, b=0),
    font=dict(family=FONT, color=TXT, size=FS),
    hovermode=False,
)

for i, (top, bot) in enumerate(PANELS, start=1):
    xk = "xaxis" if i == 1 else f"xaxis{i}"
    yk = "yaxis" if i == 1 else f"yaxis{i}"
    ya = "y" if i == 1 else f"y{i}"
    xa = "x" if i == 1 else f"x{i}"
    layout[xk] = dict(
        domain=[0, 1], anchor=ya, range=[-1.2, 25.2], tickvals=HOUR_TICKS, ticktext=HOUR_LABELS,
        showticklabels=(i == 6), ticks="outside", ticklen=6, tickwidth=1.2, tickcolor="#b8bec8",
        showline=True, mirror=True, linecolor=FRAME, linewidth=1.6, showgrid=False, zeroline=False,
        tickfont=dict(size=FS, color=TXT),
        title=dict(text="UTC, 2026-07-24" if i == 6 else "", standoff=7, font=dict(size=FS, color=TXT)),
    )
    s = Y_SPECS[i - 1]
    layout[yk] = dict(
        domain=[px_y(bot), px_y(top)], anchor=xa, range=s["range"], tickvals=s["tickvals"],
        ticktext=s["ticktext"], ticks="outside", ticklen=6, tickwidth=1.2, tickcolor="#b8bec8",
        showline=True, mirror=True, linecolor=FRAME, linewidth=1.6, showgrid=False, zeroline=False,
        tickfont=dict(size=FS, color=TXT), automargin=False,
        title=dict(text=s["title"], standoff=5, font=dict(size=FS, color=TXT)),
    )

layout["legend"] = dict(x=px_x(166), y=px_y(188), xanchor="left", yanchor="top", orientation="h",
                        font=dict(size=FS, color=TXT), bgcolor="rgba(0,0,0,0)", entrywidth=65, itemwidth=50)
layout["legend2"] = dict(x=px_x(160), y=px_y(648), xanchor="left", yanchor="top", orientation="v",
                         font=dict(size=14, color=TXT), bgcolor="rgba(0,0,0,0)", tracegroupgap=0, itemwidth=36)
layout["legend3"] = dict(x=px_x(160), y=px_y(1160), xanchor="left", yanchor="top", orientation="v",
                         font=dict(size=16, color=TXT), bgcolor="rgba(0,0,0,0)", tracegroupgap=0, itemwidth=40)

shapes = []
# incident shading
shapes.append(dict(type="rect", xref="x4", yref="y4 domain", x0=INCIDENT_OPEN[0], x1=INCIDENT_OPEN[1], y0=0, y1=1,
                   fillcolor="#101a25", line=dict(width=0), layer="below"))
for ax in ["", "4", "6"]:
    shapes.append(dict(type="line", xref=f"x{ax} domain", yref=f"y{ax}", x0=0, x1=1, y0=0, y1=0,
                       line=dict(color=ZERO, width=1.3), layer="below"))
shapes.append(dict(type="line", xref="x2 domain", yref="y2", x0=0, x1=1, y0=U_RED_LINE, y1=U_RED_LINE,
                   line=dict(color="#ff4d4d", width=2, dash="7px,4px")))
for key, col in [("SOL", C_SOL), ("ETH", C_ETH), ("BTC", C_BTC)]:
    shapes.append(dict(type="line", xref="x5 domain", yref="y5", x0=0, x1=1, y0=SIG_FLOOR[key], y1=SIG_FLOOR[key],
                       line=dict(color=col, width=1.2, dash="1.5px,2.5px"), opacity=0.85))
layout["shapes"] = shapes

ann = []
ann.append(dict(text="GMX E1 shadow safety monitor - day snapshot 2026-07-24", x=px_x(910), y=px_y(58),
                xref="paper", yref="paper", showarrow=False, xanchor="center", yanchor="middle",
                font=dict(size=25, color=TXT)))
ann.append(dict(text="shadow / dry-run: observes and records only, nothing pages, nothing is written on-chain",
                x=px_x(910), y=px_y(89), xref="paper", yref="paper", showarrow=False, xanchor="center",
                yanchor="middle", font=dict(size=25, color=TXT)))
ann.append(dict(text="red line U = 1", x=px_x(1790), y=px_y(670), xref="paper", yref="paper", showarrow=False,
                xanchor="right", yanchor="middle", font=dict(size=16, color="#e04848")))
for txt, ypx in [("shaded = incident machine open (episode classification)", 1303),
                 ("dotted = running floors", 1622),
                 ("review thresholds: 20 per market / 15 aggregate (PROVISIONAL)", 1944)]:
    ann.append(dict(text=txt, x=px_x(162), y=px_y(ypx), xref="paper", yref="paper", showarrow=False,
                    xanchor="left", yanchor="middle", font=dict(size=16, color=MUTED)))
ann.append(dict(text="724 ticks (724 ok) | schemas a6b-flows-1 | gaps shaded | generated 2026-07-25 01:26Z",
                x=px_x(17), y=px_y(2224), xref="paper", yref="paper", showarrow=False, xanchor="left",
                yanchor="middle", font=dict(size=14, color=MUTED)))
layout["annotations"] = ann

fig.update_layout(**layout)
fig.write_html("out.html")
